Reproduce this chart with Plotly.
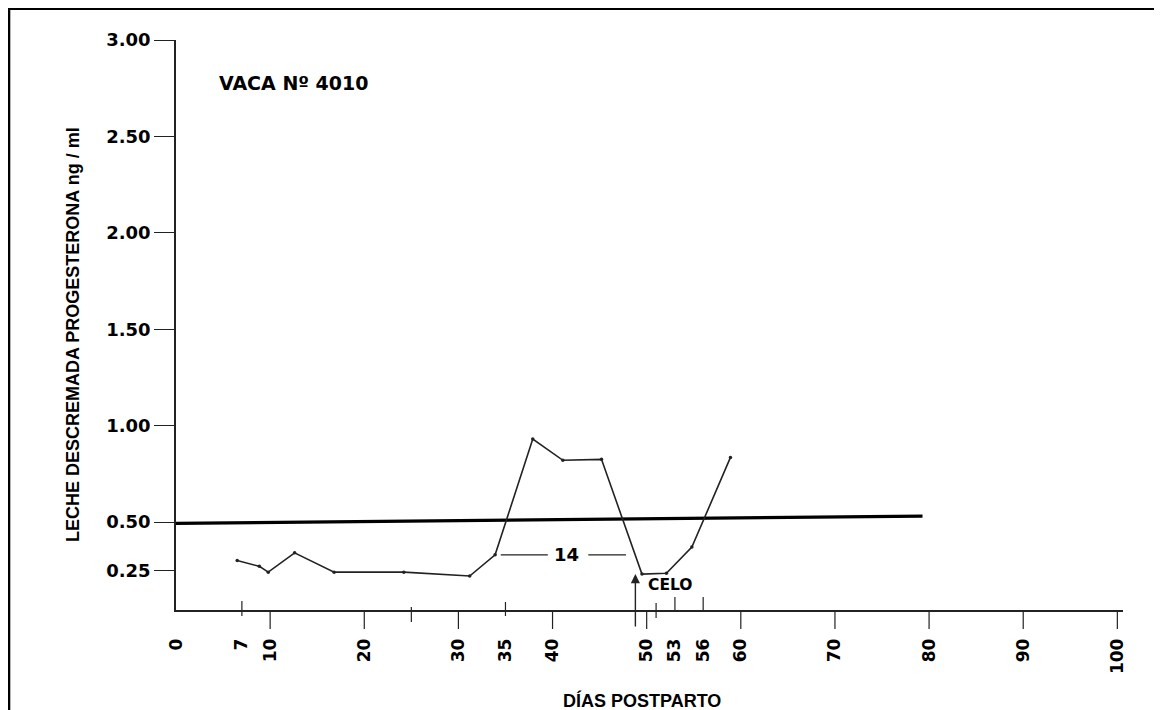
import plotly.graph_objects as go

# ---------------- data ----------------
days = [6.5, 8.85, 9.8, 12.6, 16.8, 24.2, 31.2, 33.9, 37.9, 41.1, 45.2, 49.5, 52.1, 54.8, 58.9]
progesterone = [0.30, 0.27, 0.24, 0.34, 0.24, 0.24, 0.22, 0.33, 0.93, 0.82, 0.825, 0.23, 0.234, 0.37, 0.835]

threshold_days = [0, 79.3]
threshold_values = [0.493, 0.531]

x_tick_values = [0, 7, 10, 20, 30, 35, 40, 50, 53, 56, 60, 70, 80, 90, 100]
x_tick_labels = ["0", "7", "10", "20", "30", "35", "40", "50", "53", "56", "60", "70", "80", "90", "100"]
x_long_ticks = [10, 20, 30, 40, 50, 60, 70, 80, 90, 100]
x_short_ticks = [7, 25, 35, 51, 53, 56]

y_tick_values = [0.25, 0.5, 1.0, 1.5, 2.0, 2.5, 3.0]
y_tick_labels = ["0.25", "0.50", "1.00", "1.50", "2.00", "2.50", "3.00"]

cow_label = "VACA Nº 4010"
interval_label = "14"
interval_days = [34.5, 47.8]
interval_level = 0.329
estrus_label = "CELO"
estrus_day = 48.8
estrus_value = 0.23

x_title = "DÍAS POSTPARTO"
y_title = "LECHE DESCREMADA PROGESTERONA ng / ml"

# ---------------- figure ----------------
# the page puts the figure 8 px from the top-left corner
OFF = 8
W, H = 1162 - OFF, 710 - OFF
ML, MR, MT, MB = 176 - OFF, 39, 40 - OFF, 100
plot_h = H - MT - MB
plot_w = W - ML - MR


def py(px_offset):
    """pixel offset (positive = up) from the x axis line, in paper units"""
    return px_offset / plot_h


# page-pixel -> paper helpers
px_x = lambda p: (p - OFF - ML) / plot_w
px_y = lambda p: (H - MB - (p - OFF)) / plot_h

fig = go.Figure()

fig.add_trace(go.Scatter(
    x=threshold_days, y=threshold_values, mode="lines",
    line=dict(color="black", width=3.2), hoverinfo="skip", showlegend=False,
))
fig.add_trace(go.Scatter(
    x=days, y=progesterone, mode="lines+markers",
    line=dict(color="#222222", width=1.6),
    marker=dict(color="#222222", size=3.5),
    showlegend=False, cliponaxis=False,
))

fig.update_xaxes(
    range=[0, 100.6], showline=True, linecolor="#222222", linewidth=1.5,
    showgrid=False, zeroline=False,
    tickmode="array", tickvals=x_tick_values, ticktext=x_tick_labels,
    ticks="outside", ticklen=20, tickcolor="rgba(0,0,0,0)",
    tickangle=-90,
    tickfont=dict(family="DejaVu Sans", size=17, color="black", weight="bold"),
)
fig.update_yaxes(
    range=[0.0436, 3.0], showline=True, linecolor="#222222", linewidth=1.5,
    showgrid=False, zeroline=False,
    tickmode="array", tickvals=y_tick_values, ticktext=y_tick_labels,
    ticks="outside", ticklen=20, tickcolor="#222222", tickwidth=1.2,
    tickfont=dict(family="DejaVu Sans", size=18, color="black", weight="bold"),
)

shapes = []
# long ticks below the axis
for v in x_long_ticks:
    shapes.append(dict(type="line", xref="x", yref="paper", x0=v, x1=v,
                       y0=0, y1=py(-19), line=dict(color="#222222", width=1.2)))
# short ticks crossing / above the axis
short_extent = [(-6, 9), (-12, 3), (-6, 8), (-8, 7), (0, 13), (-2, 13)]
for v, (a, b) in zip(x_short_ticks, short_extent):
    shapes.append(dict(type="line", xref="x", yref="paper", x0=v, x1=v,
                       y0=py(a), y1=py(b), line=dict(color="#222222", width=1.2)))
# "14" interval bracket lines
shapes.append(dict(type="line", xref="x", yref="y", x0=interval_days[0], x1=39.5,
                   y0=interval_level, y1=interval_level, line=dict(color="#222222", width=1.2)))
shapes.append(dict(type="line", xref="x", yref="y", x0=43.8, x1=interval_days[1],
                   y0=interval_level, y1=interval_level, line=dict(color="#222222", width=1.2)))
# frame (top and left edges of picture)
shapes.append(dict(type="line", xref="paper", yref="paper", x0=px_x(7), x1=px_x(1170),
                   y0=px_y(8.8), y1=px_y(8.8), line=dict(color="black", width=2.6)))
shapes.append(dict(type="line", xref="paper", yref="paper", x0=px_x(9), x1=px_x(9),
                   y0=px_y(7.5), y1=px_y(720), line=dict(color="black", width=2.6)))

annotations = [
    dict(text=cow_label, x=12.5, y=2.777, xref="x", yref="y", showarrow=False,
         xanchor="center", yanchor="middle",
         font=dict(family="DejaVu Sans", size=19, color="black", weight="bold")),
    dict(text=interval_label, x=41.5, y=interval_level, xref="x", yref="y", showarrow=False,
         xanchor="center", yanchor="middle",
         font=dict(family="DejaVu Sans", size=18, color="black", weight="bold")),
    dict(text=estrus_label, x=52.5, y=0.173, xref="x", yref="y", showarrow=False,
         xanchor="center", yanchor="middle",
         font=dict(family="DejaVu Sans", size=15.5, color="black", weight="bold")),
    dict(text="", x=estrus_day, y=estrus_value, xref="x", yref="y",
         ax=estrus_day, ay=-0.05, axref="x", ayref="y", showarrow=True,
         arrowhead=2, arrowsize=1.3, arrowwidth=1.4, arrowcolor="#222222"),
    dict(text=x_title, x=px_x(642), y=px_y(700), xref="paper", yref="paper",
         showarrow=False, xanchor="center", yanchor="middle",
         font=dict(family="Liberation Sans", size=18, color="black", weight="bold")),
    dict(text=y_title, x=px_x(73), y=px_y(335), xref="paper", yref="paper",
         showarrow=False, xanchor="center", yanchor="middle", textangle=-90,
         font=dict(family="Liberation Sans", size=18, color="black", weight="bold")),
]

fig.update_layout(
    width=W, height=H, autosize=False,
    margin=dict(l=ML, r=MR, t=MT, b=MB, pad=0),
    paper_bgcolor="white", plot_bgcolor="white",
    shapes=shapes, annotations=annotations, showlegend=False,
)

fig.write_html("out.html")
